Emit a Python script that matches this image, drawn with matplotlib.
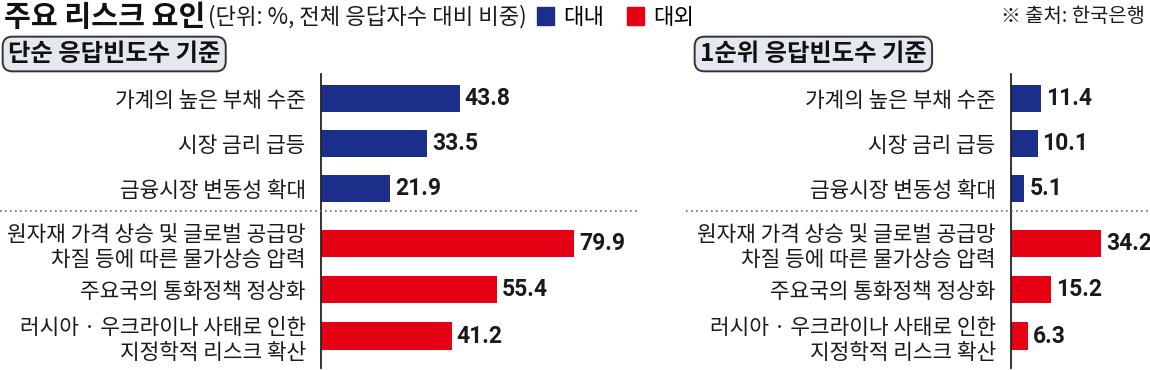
import matplotlib
matplotlib.use('Agg')
import matplotlib.pyplot as plt
import numpy as np
from matplotlib.patches import Patch
from matplotlib.lines import Line2D
from matplotlib import font_manager

# data
domestic_labels = ['가계의 높은 부채 수준', '시장 금리 급등', '금융시장 변동성 확대']
external_labels = ['원자재 가격 상승 및 글로벌 공급망\n차질 등에 따른 물가상승 압력',
                   '주요국의 통화정책 정상화',
                   '러시아 · 우크라이나 사태로 인한\n지정학적 리스크 확산']
simple_domestic = [43.8, 33.5, 21.9]
simple_external = [79.9, 55.4, 41.2]
first_domestic = [11.4, 10.1, 5.1]
first_external = [34.2, 15.2, 6.3]

BLUE = '#1b2e8a'
RED = '#e50014'
W, H = 1150, 370

plt.rcParams['font.family'] = ['Noto Sans CJK KR', 'DejaVu Sans']

names = {f.name for f in font_manager.fontManager.ttflist}
if 'Liberation Sans Narrow' in names:
    num_font = dict(family='Liberation Sans Narrow', size=19, weight='bold')
else:
    num_font = dict(family='Roboto', size=16.5, weight='bold')

fig = plt.figure(figsize=(W / 100, H / 100), dpi=100)


def px_axes(left, top, width, height):
    return fig.add_axes([left / W, 1 - (top + height) / H, width / W, height / H])


labels = domestic_labels + external_labels
rows = np.r_[np.arange(3), 3.22 + np.arange(3) * 1.03]


def panel(ax, dom, ext, xmax):
    b1 = ax.barh(rows[:3], dom, height=0.61, color=BLUE)
    b2 = ax.barh(rows[3:], ext, height=0.61, color=RED)
    for b in (b1, b2):
        ax.bar_label(b, fmt='%.1f', padding=3.5, color='#1a1a1a',
                     fontproperties=font_manager.FontProperties(**num_font))
    ax.set_xlim(0, xmax)
    ax.set_ylim(5.99, -0.544)
    ax.set_yticks(rows, labels)
    ax.set_xticks([])
    ax.tick_params(axis='y', length=0, pad=11, labelsize=15.4, labelcolor='#1a1a1a')
    for s in ['top', 'right', 'bottom']:
        ax.spines[s].set_visible(False)
    ax.spines['left'].set_linewidth(1.3)
    ax.spines['left'].set_color('#222')
    ax.patch.set_alpha(0)


ax1 = px_axes(321, 74, 285, 294)
panel(ax1, simple_domestic, simple_external, 285 / 3.17)
ax2 = px_axes(1011, 74, 137, 294)
panel(ax2, first_domestic, first_external, 137 / 2.63)

# dotted dividers
yd = 1 - 211 / H
fig.add_artist(Line2D([0, 640 / W], [yd, yd], transform=fig.transFigure,
                      color='#666', lw=1.2, ls=(0, (1, 2))))
fig.add_artist(Line2D([686 / W, 1], [yd, yd], transform=fig.transFigure,
                      color='#666', lw=1.2, ls=(0, (1, 2))))

# title, subtitle, legend, source
fig.text(4 / W, 1 - 17 / H, '주요 리스크 요인', fontsize=21, fontweight='bold',
         va='center', color='#111')
fig.text(208 / W, 1 - 17 / H, '(단위: %, 전체 응답자수 대비 비중)', fontsize=16,
         va='center', color='#1a1a1a')
handles = [Patch(color=BLUE, label='대내'), Patch(color=RED, label='대외')]
fig.legend(handles=handles, loc='center left', bbox_to_anchor=(537 / W, 1 - 17 / H),
           ncol=2, frameon=False, fontsize=16, handlelength=0.75, handleheight=0.85,
           handletextpad=0.45, columnspacing=1.0, borderpad=0, borderaxespad=0)
fig.text(1145 / W, 1 - 17 / H, '※ 출처: 한국은행', fontsize=14.3, ha='right',
         va='center', color='#1a1a1a')

box = dict(boxstyle='round,pad=0.22,rounding_size=0.4', fc='#e4e8ef', ec='#333', lw=1.4)
fig.text(8 / W, 1 - 54 / H, '단순 응답빈도수 기준', fontsize=17.5, fontweight='bold',
         va='center', color='#111', bbox=box)
fig.text(700 / W, 1 - 54 / H, '1순위 응답빈도수 기준', fontsize=17.5, fontweight='bold',
         va='center', color='#111', bbox=box)

fig.savefig('out.png', dpi=100)
